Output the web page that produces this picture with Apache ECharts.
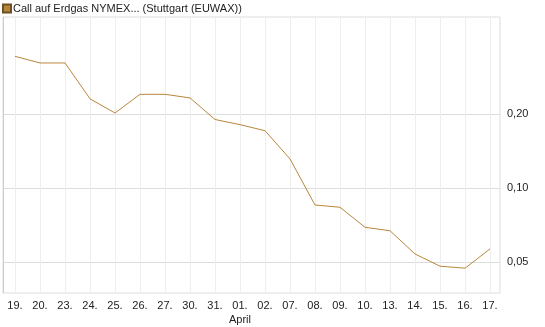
<!DOCTYPE html>
<html>
<head>
<meta charset="utf-8">
<script src="https://cdn.jsdelivr.net/npm/echarts@6/dist/echarts.min.js"></script>
<style>
  html, body { margin: 0; padding: 0; background: #fff; }
  #chart { width: 545px; height: 327px; }
</style>
</head>
<body>
<div id="chart"></div>
<script>
// Tage (März / April)
const days = ['19.', '20.', '23.', '24.', '25.', '26.', '27.', '30.', '31.', '01.', '02.',
  '07.', '08.', '09.', '10.', '13.', '14.', '15.', '16.', '17.'];
const prices = [0.345, 0.324, 0.324, 0.231, 0.202, 0.241, 0.241, 0.233, 0.190, 0.181, 0.171,
  0.131, 0.0848, 0.0830, 0.0687, 0.0665, 0.0534, 0.0476, 0.0467, 0.0560];
const yTicks = [0.05, 0.1, 0.2];
const seriesName = 'Call auf Erdgas NYMEX... (Stuttgart (EUWAX))';

const yMin = 0.0373, yMax = 0.5;
const font = 'Liberation Sans, Arial, sans-serif';

const chart = echarts.init(document.getElementById('chart'));
chart.setOption({
  animation: false,
  textStyle: { fontFamily: font },
  legend: {
    left: 2, top: 3, padding: 0,
    icon: 'rect', itemWidth: 8, itemHeight: 8, itemGap: 5,
    textStyle: { fontSize: 11, color: '#222', fontFamily: font, padding: [0, 0, 0, -3] },
    data: [seriesName]
  },
  grid: [
    // rahmen + y-achse
    { left: 3, right: 45, top: 17, bottom: 34, show: true, borderColor: '#ddd', borderWidth: 1 },
    // daten
    { left: 15, right: 55, top: 17, bottom: 34 }
  ],
  xAxis: [
    { gridIndex: 0, type: 'value', show: false, min: 0, max: 1 },
    {
      gridIndex: 1, type: 'category', data: days, boundaryGap: false,
      axisLine: { show: false },
      axisTick: { show: false },
      axisLabel: {
        interval: 0, fontSize: 11, color: '#222', margin: 7, lineHeight: 14,
        formatter: (v, i) => (i === 9 ? v + '\nApril' : v)
      },
      splitLine: { show: true, lineStyle: { color: '#eee', width: 1 } }
    }
  ],
  yAxis: [
    {
      gridIndex: 0, type: 'log', logBase: 10, position: 'right', min: yMin, max: yMax,
      axisLine: { show: true, lineStyle: { color: '#ccc' } },
      axisTick: { show: false, customValues: yTicks },
      axisLabel: {
        customValues: yTicks, fontSize: 11, color: '#222', margin: 7,
        formatter: v => v.toFixed(2).replace('.', ',')
      },
      splitLine: { show: true, lineStyle: { color: '#ddd', width: 1 } }
    },
    { gridIndex: 1, type: 'log', logBase: 10, min: yMin, max: yMax, show: false }
  ],
  series: [{
    name: seriesName,
    type: 'line',
    xAxisIndex: 1, yAxisIndex: 1,
    data: prices,
    symbol: 'none',
    lineStyle: { color: '#b8863b', width: 1 },
    itemStyle: { color: '#b8863b', borderColor: '#6e5024', borderWidth: 1 }
  }]
});
</script>
</body>
</html>
